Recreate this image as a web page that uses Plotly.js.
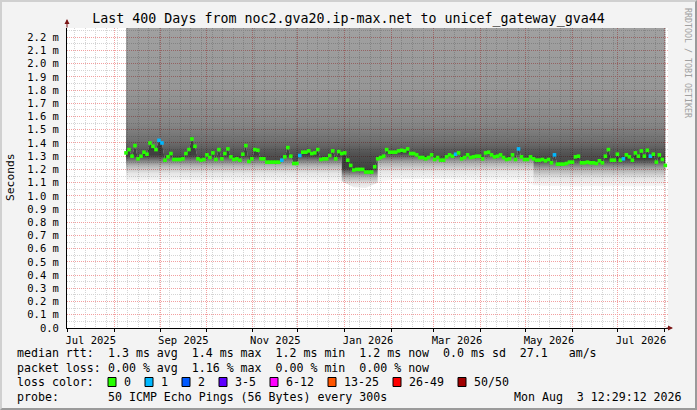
<!DOCTYPE html>
<html>
<head>
<meta charset="utf-8">
<script src="https://cdn.plot.ly/plotly-3.0.1.min.js"></script>
<style>
  html, body { margin: 0; padding: 0; background: #f3f3f3; }
  #frame { position: relative; width: 697px; height: 410px; }
  #chart { position: absolute; left: 0; top: 0; width: 697px; height: 410px; }
  #edge { position: absolute; left: 0; top: 0; width: 697px; height: 410px; box-sizing: border-box;
          border-top: 2px solid #d0d0d0; border-left: 2px solid #d0d0d0;
          border-right: 2px solid #9a9a9a; border-bottom: 2px solid #9a9a9a; pointer-events: none; }
</style>
</head>
<body>
<div id="frame"><div id="chart"></div><div id="edge"></div></div>
<script>
var titleText = 'Last 400 Days from noc2.gva20.ip-max.net to unicef_gateway_gva44';
var viewStart = '2025-06-30 19:00';
var viewEnd = '2026-08-03 11:00';

// consolidated rrd rows, one every ~47.7 h
var sampleStart = Date.UTC(2025, 7, 8, 22, 30);
var sampleHours = 47.7;

// median rtt in ms
var medianRtt = [
    1.325, 1.35, 1.30, 1.38, 1.28, 1.30, 1.33, 1.315, 1.40, 1.375,
    1.35, 1.42, 1.40, 1.27, 1.295, 1.32, 1.275, 1.275, 1.275, 1.28,
    1.32, 1.35, 1.43, 1.375, 1.28, 1.27, 1.275, 1.31, 1.29, 1.325,
    1.275, 1.35, 1.28, 1.32, 1.355, 1.295, 1.275, 1.28, 1.27, 1.315,
    1.38, 1.26, 1.28, 1.35, 1.345, 1.28, 1.28, 1.255, 1.255, 1.255,
    1.255, 1.255, 1.27, 1.295, 1.365, 1.30, 1.245, 1.245, 1.305, 1.33,
    1.33, 1.34, 1.32, 1.325, 1.35, 1.275, 1.28, 1.28, 1.305, 1.34,
    1.28, 1.335, 1.32, 1.325, 1.27, 1.23, 1.195, 1.20, 1.20, 1.20,
    1.18, 1.18, 1.18, 1.22, 1.28, 1.29, 1.30, 1.35, 1.33, 1.33,
    1.33, 1.34, 1.345, 1.34, 1.355, 1.32, 1.32, 1.31, 1.29, 1.29,
    1.28, 1.29, 1.31, 1.275, 1.29, 1.27, 1.27, 1.295, 1.31, 1.30,
    1.315, 1.325, 1.28, 1.29, 1.31, 1.29, 1.295, 1.30, 1.30, 1.28,
    1.325, 1.33, 1.31, 1.295, 1.30, 1.31, 1.29, 1.275, 1.28, 1.31,
    1.275, 1.355, 1.295, 1.275, 1.275, 1.295, 1.28, 1.27, 1.27, 1.275,
    1.265, 1.275, 1.25, 1.31, 1.24, 1.24, 1.24, 1.245, 1.255, 1.255,
    1.295, 1.30, 1.25, 1.25, 1.255, 1.25, 1.25, 1.245, 1.265, 1.25,
    1.30, 1.35, 1.27, 1.27, 1.315, 1.27, 1.28, 1.31, 1.295, 1.27,
    1.325, 1.30, 1.34, 1.30, 1.345, 1.30, 1.315, 1.255, 1.31, 1.275,
    1.23
];

// rows that lost pings
var lossIndex = [11, 12, 52, 58, 110, 131, 143, 166, 175];
var lossPings = [1, 1, 1, 1, 1, 1, 1, 1, 1];

// smoke edges, every 4th row
var smokeMin = [
    1.12, 1.11, 1.12, 1.115, 1.12, 1.12, 1.115, 1.12, 1.115, 1.11,
    1.115, 1.11, 1.115, 1.11, 1.105, 1.11, 1.105, 1.11, 1.11, 1.065,
    1.06, 1.10, 1.12, 1.125, 1.125, 1.13, 1.125, 1.125, 1.12, 1.12,
    1.115, 1.12, 1.115, 1.12, 1.08, 1.075, 1.075, 1.07, 1.07, 1.075,
    1.07, 1.075, 1.07, 1.07, 1.075, 1.075
];
var smokeMax = [
    2.4, 2.4, 2.4, 2.4, 2.4, 2.4, 2.4, 2.4, 2.4, 2.4,
    2.4, 2.4, 2.4, 2.4, 2.4, 2.4, 2.4, 2.4, 2.4, 2.4,
    2.4, 2.4, 2.4, 2.4, 2.4, 2.4, 2.4, 2.4, 2.4, 2.4,
    2.4, 2.4, 2.4, 2.4, 2.4, 2.4, 2.4, 2.4, 2.4, 2.4,
    2.4, 2.4, 2.4, 2.4, 2.4, 2.4
];

var xTickVals = ['2025-07-16 12:00', '2025-09-16', '2025-11-16', '2026-01-16 12:00',
                 '2026-03-16 12:00', '2026-05-16 12:00', '2026-07-16 12:00'];
var xTickText = ['Jul 2025', 'Sep 2025', 'Nov 2025', 'Jan 2026', 'Mar 2026', 'May 2026', 'Jul 2026'];

var yTickVals = [0, 0.1, 0.2, 0.3, 0.4, 0.5, 0.6, 0.7, 0.8, 0.9, 1.0, 1.1,
                 1.2, 1.3, 1.4, 1.5, 1.6, 1.7, 1.8, 1.9, 2.0, 2.1, 2.2];
var yTickText = ['0.0', '0.1 m', '0.2 m', '0.3 m', '0.4 m', '0.5 m', '0.6 m', '0.7 m',
                 '0.8 m', '0.9 m', '1.0 m', '1.1 m', '1.2 m', '1.3 m', '1.4 m', '1.5 m',
                 '1.6 m', '1.7 m', '1.8 m', '1.9 m', '2.0 m', '2.1 m', '2.2 m'];

var lossLabels = ['0', '1', '2', '3-5', '6-12', '13-25', '26-49', '50/50'];
var lossColors = ['#26ff00', '#00b8ff', '#0059ff', '#5e00ff', '#ff00ff', '#ff5500', '#ff0000', '#a10000'];
var lossUpper = [0, 1, 2, 5, 12, 25, 49, 50];

var statLabels = ['median rtt:', 'packet loss:', 'loss color:', 'probe:'];
var statValues = ['1.3 ms avg  1.4 ms max  1.2 ms min  1.2 ms now  0.0 ms sd  27.1   am/s',
                  '0.00 % avg  1.16 % max  0.00 % min  0.00 % now',
                  '',
                  '50 ICMP Echo Pings (56 Bytes) every 300s'];
var stampText = 'Mon Aug  3 12:29:12 2026';

var MONO = "'DejaVu Sans Mono', monospace";

// plot box in pixels
var L = 67, R = 668, T = 28, B = 328;
function fx(px) { return (px - L) / (R - L); }
function fy(py) { return (B - py) / (B - T); }
function nb(s) { return s.replace(/ /g, '\u00a0'); }

var sampleTime = medianRtt.map(function(v, i) { return sampleStart + i * sampleHours * 3600e3; });
var smokeTime = smokeMin.map(function(v, k) { return sampleTime[k * 4]; });

var losses = medianRtt.map(function() { return 0; });
lossIndex.forEach(function(idx, j) { losses[idx] = lossPings[j]; });
var pointColors = losses.map(function(n) {
    for (var c = 0; c < lossUpper.length; c++) if (n <= lossUpper[c]) return lossColors[c];
    return lossColors[lossColors.length - 1];
});

// lower smoke, split so the shading follows the level of the median
var lowerParts = [
    {from: 0, to: 18, lo: 1.11, hi: 1.31},
    {from: 18, to: 21, lo: 1.04, hi: 1.21},
    {from: 21, to: 34, lo: 1.12, hi: 1.33},
    {from: 34, to: 45, lo: 1.07, hi: 1.28}
];
var lowScale = [[0, 'rgba(0,0,0,0.03)'], [0.3, 'rgba(0,0,0,0.10)'], [0.6, 'rgba(0,0,0,0.30)'],
                [0.85, 'rgba(0,0,0,0.58)'], [1, 'rgba(0,0,0,0.75)']];
var highScale = [[0, 'rgba(0,0,0,0.78)'], [0.15, 'rgba(0,0,0,0.68)'], [0.24, 'rgba(0,0,0,0.56)'],
                 [0.36, 'rgba(0,0,0,0.47)'], [0.6, 'rgba(0,0,0,0.41)'], [1, 'rgba(0,0,0,0.37)']];

var traces = [];
lowerParts.forEach(function(p) {
    var xs = [], ys = [];
    for (var i = p.from * 4; i <= p.to * 4; i++) { xs.push(sampleTime[i]); ys.push(medianRtt[i]); }
    for (var k = p.to; k >= p.from; k--) { xs.push(smokeTime[k]); ys.push(smokeMin[k]); }
    traces.push({
        type: 'scatter', mode: 'none', x: xs, y: ys, fill: 'toself', hoverinfo: 'skip',
        fillcolor: 'rgba(0,0,0,0.3)',
        fillgradient: {type: 'vertical', start: p.lo, stop: p.hi, colorscale: lowScale}
    });
});

var ux = sampleTime.slice(), uy = medianRtt.slice();
for (var k = smokeTime.length - 1; k >= 0; k--) { ux.push(smokeTime[k]); uy.push(smokeMax[k]); }
traces.push({
    type: 'scatter', mode: 'none', x: ux, y: uy, fill: 'toself', hoverinfo: 'skip',
    fillcolor: 'rgba(0,0,0,0.4)',
    fillgradient: {type: 'vertical', start: 1.15, stop: 2.27, colorscale: highScale}
});

traces.push({
    type: 'scatter', mode: 'markers', xaxis: 'x2', x: sampleTime, y: medianRtt,
    marker: {symbol: 'square', size: 3.6, color: pointColors, line: {width: 0}},
    hoverinfo: 'skip'
});

var annotations = [];
var textFont = {family: MONO, size: 11.6, color: '#000'};
var rowY = [353, 368, 382, 397];
statLabels.forEach(function(s, r) {
    annotations.push({xref: 'paper', yref: 'paper', x: fx(15), y: fy(rowY[r]), xanchor: 'left', yanchor: 'middle',
        text: nb(s), showarrow: false, font: textFont});
    if (statValues[r]) {
        annotations.push({xref: 'paper', yref: 'paper', x: fx(106), y: fy(rowY[r]), xanchor: 'left', yanchor: 'middle',
            text: nb(statValues[r]), showarrow: false, font: textFont});
    }
});
annotations.push({xref: 'paper', yref: 'paper', x: fx(684), y: fy(rowY[3]), xanchor: 'right', yanchor: 'middle',
    text: nb(stampText), showarrow: false, font: textFont});

var shapes = [];
var bx = 108;
lossLabels.forEach(function(lab, c) {
    shapes.push({type: 'rect', xref: 'paper', yref: 'paper', x0: fx(bx), x1: fx(bx + 8),
        y0: fy(rowY[2] + 4.5), y1: fy(rowY[2] - 4.5), fillcolor: lossColors[c], line: {color: '#000', width: 1}});
    annotations.push({xref: 'paper', yref: 'paper', x: fx(bx + 14), y: fy(rowY[2]), xanchor: 'left', yanchor: 'middle',
        text: nb(lab), showarrow: false, font: textFont});
    bx += 16 + 7 * lab.length + 14;
});

annotations.push({xref: 'paper', yref: 'paper', x: fx(10), y: fy(177), textangle: -90,
    xanchor: 'center', yanchor: 'middle',
    text: 'Seconds', showarrow: false, font: {family: MONO, size: 11.3, color: '#000'}});
annotations.push({xref: 'paper', yref: 'paper', x: fx(688), y: fy(63), textangle: 90,
    xanchor: 'center', yanchor: 'middle',
    text: nb('RRDTOOL / TOBI OETIKER'), showarrow: false, font: {family: MONO, size: 8.3, color: '#a0a0a0'}});
// axis arrows
annotations.push({xref: 'paper', yref: 'paper', x: 0, y: fy(19), ax: 0, ay: 10, showarrow: true,
    arrowhead: 2, arrowsize: 1, arrowwidth: 1, arrowcolor: '#7a1515', text: ''});
annotations.push({xref: 'paper', yref: 'paper', x: fx(673), y: 0, ax: -8, ay: 0, showarrow: true,
    arrowhead: 2, arrowsize: 1, arrowwidth: 1, arrowcolor: '#7a1515', text: ''});

var pink = '#f2a0a0', grey = '#d4d4d4', dots = '1px,1px';

var layout = {
    width: 697, height: 410,
    margin: {l: L, r: 697 - R, t: T, b: 410 - B, pad: 0},
    paper_bgcolor: '#f3f3f3', plot_bgcolor: '#ffffff',
    showlegend: false,
    font: {family: MONO, color: '#000'},
    title: {text: titleText, font: {family: MONO, size: 13.3, color: '#000'},
        x: 0.5, xref: 'container', y: 1 - 18 / 410, yref: 'container', yanchor: 'middle'},
    xaxis: {
        type: 'date', range: [viewStart, viewEnd], tickmode: 'array', tickvals: xTickVals, ticktext: xTickText,
        ticks: '', showgrid: false, zeroline: false, showline: true, linecolor: '#000', linewidth: 1,
        tickfont: {family: MONO, size: 10.5, color: '#000'}, ticklabelstandoff: 2
    },
    xaxis2: {
        type: 'date', overlaying: 'x', anchor: 'y', range: [viewStart, viewEnd],
        tickmode: 'linear', tick0: '2025-07-01', dtick: 'M1', showticklabels: false,
        ticks: 'outside', ticklen: 3, tickcolor: '#000', side: 'bottom',
        showgrid: true, gridcolor: pink, griddash: dots, gridwidth: 1, zeroline: false,
        minor: {tickmode: 'linear', tick0: '2025-07-06', dtick: 7 * 86400000, showgrid: true,
            gridcolor: grey, griddash: dots, gridwidth: 1, ticks: ''}
    },
    yaxis: {
        range: [0, 2.27], tickmode: 'array', tickvals: yTickVals, ticktext: yTickText,
        ticks: '', showgrid: true, gridcolor: pink, griddash: dots, gridwidth: 1, zeroline: false,
        showline: true, linecolor: '#000', linewidth: 1,
        tickfont: {family: MONO, size: 10.5, color: '#000'}, ticklabelstandoff: 5,
        minor: {tickmode: 'linear', tick0: 0, dtick: 0.05, showgrid: true, gridcolor: grey, griddash: dots, gridwidth: 1}
    },
    annotations: annotations,
    shapes: shapes
};

Plotly.newPlot('chart', traces, layout, {staticPlot: true, displayModeBar: false});
</script>
</body>
</html>
